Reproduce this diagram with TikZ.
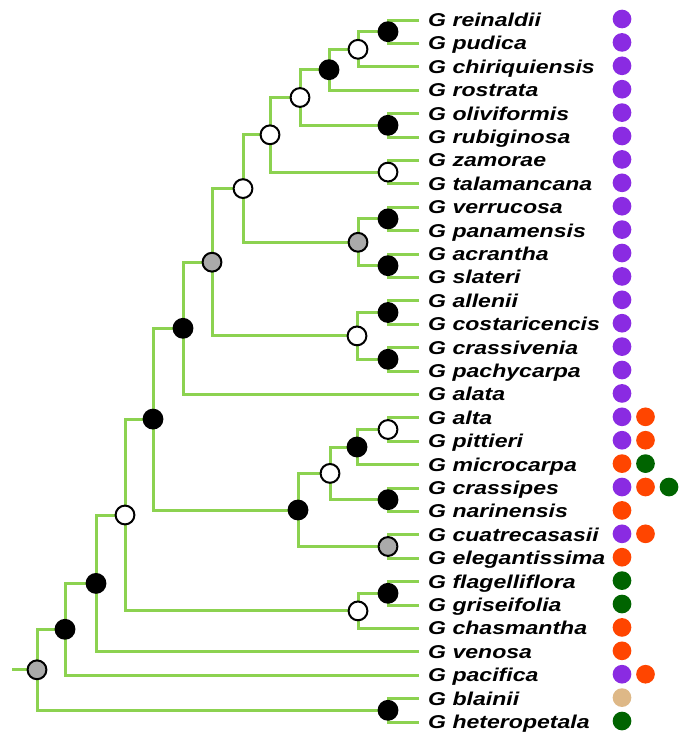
\documentclass[tikz,border=0pt]{standalone}
\usepackage{fontspec}
\setmainfont{Liberation Sans}
\usepackage{graphicx}
\pgfdeclarelayer{bg}
\pgfsetlayers{bg,main}
\definecolor{brc}{RGB}{140,210,80}
\definecolor{cpur}{RGB}{138,43,226}
\definecolor{cora}{RGB}{255,69,0}
\definecolor{cgrn}{RGB}{0,100,0}
\definecolor{ctan}{RGB}{222,184,135}
\definecolor{cgry}{RGB}{170,170,170}
\tikzset{
 br/.style={draw=brc, line width=3pt},
 nd/.style={circle, draw=black, line width=2pt, minimum size=18.8pt, inner sep=0pt},
 blk/.style={nd, fill=black},
 opn/.style={nd, fill=white},
 gry/.style={nd, fill=cgry},
 dotc/.style={circle, inner sep=0pt, minimum size=18.7pt},
 lab/.style={anchor=base west, inner sep=0pt, font=\fontsize{18.6}{20}\selectfont\bfseries\itshape},
}
\begin{document}
\begin{tikzpicture}[x=1pt,y=-1pt]
\useasboundingbox (0,0) rectangle (678,736);
% leaves
\foreach \nm [count=\i from 0] in {reinaldii,pudica,chiriquiensis,rostrata,oliviformis,rubiginosa,zamorae,talamancana,verrucosa,panamensis,acrantha,slateri,allenii,costaricencis,crassivenia,pachycarpa,alata,alta,pittieri,microcarpa,crassipes,narinensis,cuatrecasasii,elegantissima,flagelliflora,griseifolia,chasmantha,venosa,pacifica,blainii,heteropetala}{
  \coordinate (l\i) at (419, 20+23.4*\i);
  \node[lab] (t\i) at (428, 26.5+23.4*\i) {\scalebox{1.24}[1]{G \nm}};
}
% distribution dots
\foreach \i/\k/\c in {0/0/cpur,1/0/cpur,2/0/cpur,3/0/cpur,4/0/cpur,5/0/cpur,6/0/cpur,7/0/cpur,8/0/cpur,9/0/cpur,10/0/cpur,11/0/cpur,12/0/cpur,13/0/cpur,14/0/cpur,15/0/cpur,16/0/cpur,
  17/0/cpur,17/1/cora,18/0/cpur,18/1/cora,19/0/cora,19/1/cgrn,20/0/cpur,20/1/cora,20/2/cgrn,21/0/cora,22/0/cpur,22/1/cora,23/0/cora,24/0/cgrn,25/0/cgrn,26/0/cora,27/0/cora,28/0/cpur,28/1/cora,29/0/ctan,30/0/cgrn}{
  \node[dotc, fill=\c] (d\i-\k) at (622+23.5*\k, 19+23.4*\i) {};
}
% internal nodes
\node[blk] (n1) at (388, 31.7) {};
\node[opn] (n2) at (358, 49.3) {};
\node[blk] (n3) at (329, 69.7) {};
\node[blk] (n4) at (388, 125.3) {};
\node[opn] (n5) at (300, 97.5) {};
\node[opn] (n6) at (388, 172.1) {};
\node[opn] (n7) at (270, 134.8) {};
\node[blk] (n8) at (388, 218.9) {};
\node[blk] (n9) at (388, 265.7) {};
\node[gry] (n10) at (358, 242.3) {};
\node[opn] (n11) at (243, 188.6) {};
\node[blk] (n12) at (388, 312.5) {};
\node[blk] (n13) at (388, 359.3) {};
\node[opn] (n14) at (357, 335.9) {};
\node[gry] (n15) at (212, 262.2) {};
\node[blk] (n16) at (183, 328.3) {};
\node[opn] (n17) at (388, 429.5) {};
\node[blk] (n18) at (357, 447) {};
\node[blk] (n19) at (388, 499.7) {};
\node[opn] (n20) at (330, 473.4) {};
\node[gry] (n21) at (388, 546.5) {};
\node[blk] (n22) at (298, 510) {};
\node[blk] (n23) at (153, 419.1) {};
\node[blk] (n24) at (388, 593.3) {};
\node[opn] (n25) at (358, 610.9) {};
\node[opn] (n26) at (125, 515) {};
\node[blk] (n27) at (96, 583.4) {};
\node[blk] (n28) at (65, 629.3) {};
\node[blk] (n29) at (388, 710.3) {};
\node[gry] (root) at (37, 669.8) {};
\coordinate (rs) at (12, 669.8);
% branches
\begin{pgfonlayer}{bg}
\draw[br] (n1.center) |- (l0) (n1.center) |- (l1);
\draw[br] (n2.center) |- (n1.center) (n2.center) |- (l2);
\draw[br] (n3.center) |- (n2.center) (n3.center) |- (l3);
\draw[br] (n4.center) |- (l4) (n4.center) |- (l5);
\draw[br] (n5.center) |- (n3.center) (n5.center) |- (n4.center);
\draw[br] (n6.center) |- (l6) (n6.center) |- (l7);
\draw[br] (n7.center) |- (n5.center) (n7.center) |- (n6.center);
\draw[br] (n8.center) |- (l8) (n8.center) |- (l9);
\draw[br] (n9.center) |- (l10) (n9.center) |- (l11);
\draw[br] (n10.center) |- (n8.center) (n10.center) |- (n9.center);
\draw[br] (n11.center) |- (n7.center) (n11.center) |- (n10.center);
\draw[br] (n12.center) |- (l12) (n12.center) |- (l13);
\draw[br] (n13.center) |- (l14) (n13.center) |- (l15);
\draw[br] (n14.center) |- (n12.center) (n14.center) |- (n13.center);
\draw[br] (n15.center) |- (n11.center) (n15.center) |- (n14.center);
\draw[br] (n16.center) |- (n15.center) (n16.center) |- (l16);
\draw[br] (n17.center) |- (l17) (n17.center) |- (l18);
\draw[br] (n18.center) |- (n17.center) (n18.center) |- (l19);
\draw[br] (n19.center) |- (l20) (n19.center) |- (l21);
\draw[br] (n20.center) |- (n18.center) (n20.center) |- (n19.center);
\draw[br] (n21.center) |- (l22) (n21.center) |- (l23);
\draw[br] (n22.center) |- (n20.center) (n22.center) |- (n21.center);
\draw[br] (n23.center) |- (n16.center) (n23.center) |- (n22.center);
\draw[br] (n24.center) |- (l24) (n24.center) |- (l25);
\draw[br] (n25.center) |- (n24.center) (n25.center) |- (l26);
\draw[br] (n26.center) |- (n23.center) (n26.center) |- (n25.center);
\draw[br] (n27.center) |- (n26.center) (n27.center) |- (l27);
\draw[br] (n28.center) |- (n27.center) (n28.center) |- (l28);
\draw[br] (n29.center) |- (l29) (n29.center) |- (l30);
\draw[br] (root.center) |- (n28.center) (root.center) |- (n29.center);
\draw[br] (rs) -- (root.center);
\end{pgfonlayer}
\end{tikzpicture}
\end{document}
